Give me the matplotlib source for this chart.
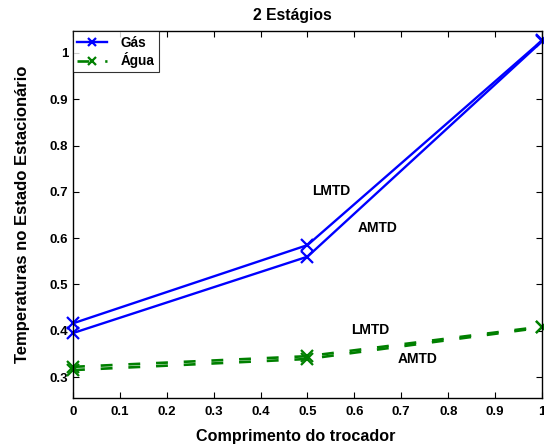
import matplotlib
matplotlib.use("Agg")
import matplotlib.pyplot as plt

plt.rcParams['font.family'] = ['Liberation Sans', 'DejaVu Sans']
plt.rcParams['font.weight'] = 'bold'

x = [0, 0.5, 1]
gas_lmtd = [0.416, 0.585, 1.027]
gas_amtd = [0.395, 0.560, 1.025]
agua_lmtd = [0.322, 0.345, 0.409]
agua_amtd = [0.315, 0.339, 0.407]

xticks = [0, 0.1, 0.2, 0.3, 0.4, 0.5, 0.6, 0.7, 0.8, 0.9, 1]
xticklabels = ['0', '0.1', '0.2', '0.3', '0.4', '0.5', '0.6', '0.7', '0.8', '0.9', '1']
yticks = [0.3, 0.4, 0.5, 0.6, 0.7, 0.8, 0.9, 1.0]
yticklabels = ['0.3', '0.4', '0.5', '0.6', '0.7', '0.8', '0.9', '1']

fig = plt.figure(figsize=(5.44, 4.48), dpi=100)
ax = fig.add_axes([0.1342, 0.1116, 0.8621, 0.8181])

blue = '#0000ff'
green = '#008000'
ax.plot(x, gas_lmtd, color=blue, lw=1.7, marker='x', ms=8, mew=1.6, label='Gás', clip_on=False)
ax.plot(x, gas_amtd, color=blue, lw=1.7, marker='x', ms=8, mew=1.6, clip_on=False)
ax.plot(x, agua_lmtd, color=green, lw=1.9, ls=(0, (4.5, 6)), marker='x', ms=8, mew=1.6, label='Água', clip_on=False)
ax.plot(x, agua_amtd, color=green, lw=1.9, ls=(0, (4.5, 6)), marker='x', ms=8, mew=1.6, clip_on=False)

ax.text(0.51, 0.702, 'LMTD', fontsize=10, fontweight='bold', va='center', ha='left')
ax.text(0.607, 0.622, 'AMTD', fontsize=10, fontweight='bold', va='center', ha='left')
ax.text(0.592, 0.401, 'LMTD', fontsize=10, fontweight='bold', va='center', ha='left')
ax.text(0.692, 0.339, 'AMTD', fontsize=10, fontweight='bold', va='center', ha='left')

ax.set_xlim(0, 1)
ax.set_ylim(0.2547, 1.0464)
ax.set_xticks(xticks)
ax.set_xticklabels(xticklabels)
ax.set_yticks(yticks)
ax.set_yticklabels(yticklabels)
ax.tick_params(direction='in', top=True, right=True, length=4, width=0.8, labelsize=9.5)
ax.tick_params(axis='x', pad=5.5)
ax.tick_params(axis='y', pad=3.5)
for lab in ax.get_xticklabels() + ax.get_yticklabels():
    lab.set_fontweight('bold')
for s in ax.spines.values():
    s.set_linewidth(1.0)

ax.set_title('2 Estágios', fontsize=11.3, fontweight='bold', pad=8, x=0.468)
ax.set_xlabel('Comprimento do trocador', fontsize=11.6, fontweight='bold', labelpad=8, x=0.475)
ax.set_ylabel('Temperaturas no Estado Estacionário', fontsize=12, fontweight='bold', labelpad=14)

leg = ax.legend(loc='upper left', fontsize=9.8, frameon=True, fancybox=False,
                edgecolor='black', borderaxespad=0.0, handlelength=2.2,
                borderpad=0.3, labelspacing=0.2, handletextpad=1.0,
                markerscale=0.8)
leg.get_frame().set_linewidth(0.8)
for t in leg.get_texts():
    t.set_fontweight('bold')

fig.savefig('out.png', dpi=100)
